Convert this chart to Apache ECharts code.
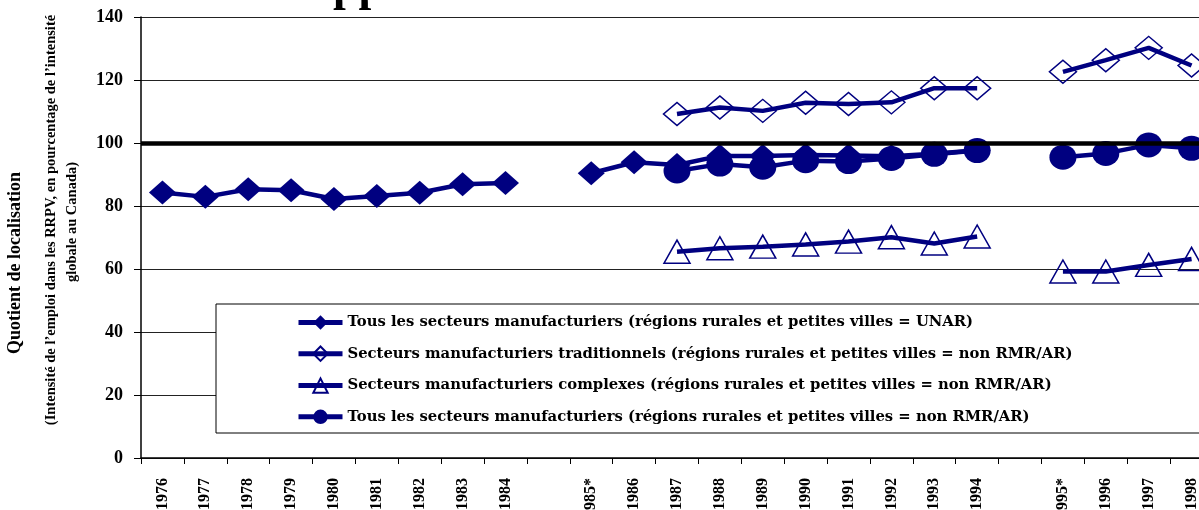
<!DOCTYPE html>
<html>
<head>
<meta charset="utf-8">
<script src="https://cdn.jsdelivr.net/npm/echarts@6/dist/echarts.min.js"></script>
<style>
html,body{margin:0;padding:0;overflow:hidden;background:#fff;}
#chart{width:1230px;height:510px;}
</style>
</head>
<body>
<div id="chart"></div>
<script>
const categories = ['1976','1977','1978','1979','1980','1981','1982','1983','1984',' ','1985*','1986','1987','1988','1989','1990','1991','1992','1993','1994','  ','1995*','1996','1997','1998'];
const yTicks = [0,20,40,60,80,100,120,140];
const seriesNames = [
  'Tous les secteurs manufacturiers (régions rurales et petites villes = UNAR)',
  'Secteurs manufacturiers traditionnels (régions rurales et petites villes = non RMR/AR)',
  'Secteurs manufacturiers complexes (régions rurales et petites villes = non RMR/AR)',
  'Tous les secteurs manufacturiers (régions rurales et petites villes = non RMR/AR)'
];
const unar = [84.3,82.9,85.3,85.0,82.2,83.2,84.2,86.9,87.3,null,90.4,93.9,93.0,95.9,95.9,96.2,96.0,95.8,96.6,97.7,null,null,null,null,null];
const traditionnels = [null,null,null,null,null,null,null,null,null,null,null,null,109.2,111.3,110.2,112.8,112.4,112.9,117.4,117.4,null,122.6,126.3,130.2,124.6];
const complexes = [null,null,null,null,null,null,null,null,null,null,null,null,65.5,66.6,67.1,67.8,68.7,70.1,68.1,70.3,null,59.2,59.2,61.3,63.2];
const nonRmr = [null,null,null,null,null,null,null,null,null,null,null,null,91.1,93.3,92.3,94.4,94.1,95.1,96.4,97.6,null,95.5,96.7,99.4,98.3];
const referenceValue = 100;
const yTitle = 'Quotient de localisation';
const ySub1 = '(Intensité de l’emploi dans les RRPV, en pourcentage de l’intensité';
const ySub2 = 'globale au Canada)';
const titleFragment = 'pp';

const NAVY = '#000080';
const SERIF = '"Liberation Serif","Times New Roman",serif';
const LEGEND_FONT = '"DejaVu Serif","Liberation Serif",serif';

function lineSeries(name, data, symbol, size, hollow) {
  return {
    name: name,
    type: 'line',
    data: data,
    connectNulls: false,
    symbol: symbol,
    symbolSize: size,
    showAllSymbol: true,
    lineStyle: {color: NAVY, width: 4.5},
    itemStyle: hollow ? {color: 'rgba(255,255,255,0)', borderColor: NAVY, borderWidth: 1.5}
                      : {color: NAVY, borderColor: NAVY, borderWidth: 0},
    emphasis: {disabled: true},
    animation: false
  };
}

const chart = echarts.init(document.getElementById('chart'), null, {renderer: 'canvas'});
chart.setOption({
  animation: false,
  backgroundColor: '#fff',
  grid: {left: 141, right: 17, top: 17, bottom: 52, containLabel: false, outerBoundsMode: 'none'},
  xAxis: {
    type: 'category',
    data: categories,
    boundaryGap: true,
    axisLine: {lineStyle: {color: '#000', width: 1.5}},
    axisTick: {show: true, length: 6, lineStyle: {color: '#000', width: 1}, interval: 0},
    axisLabel: {interval: 0, rotate: 90, margin: 20, color: '#000', fontFamily: SERIF, fontWeight: 'bold', fontSize: 16},
    splitLine: {show: false}
  },
  yAxis: {
    type: 'value',
    min: yTicks[0],
    max: yTicks[yTicks.length - 1],
    interval: 20,
    axisLine: {show: true, lineStyle: {color: '#000', width: 1.5}},
    axisTick: {show: true, length: 7, inside: false, lineStyle: {color: '#000'}},
    axisLabel: {margin: 18, color: '#000', fontFamily: SERIF, fontWeight: 'bold', fontSize: 18},
    splitLine: {show: true, lineStyle: {color: '#222', width: 1}}
  },
  legend: {
    data: seriesNames,
    orient: 'vertical',
    left: 216,
    top: 304,
    padding: [11, 10, 8, 80],
    itemGap: 15.5,
    itemWidth: 44,
    itemHeight: 18,
    backgroundColor: 'transparent',
    lineStyle: {width: 5},
    textStyle: {color: '#000', fontFamily: LEGEND_FONT, fontWeight: 'bold', fontSize: 14.8},
    selectedMode: false,
    z: 10
  },
  graphic: [
    {type: 'rect', shape: {x: 216, y: 304, width: 1000, height: 129}, style: {fill: '#fff', stroke: '#000', lineWidth: 1}, z: 5, silent: true},
    {type: 'text', x: 15, y: 263, rotation: Math.PI / 2, style: {text: yTitle, font: 'bold 18px ' + SERIF, fill: '#000', textAlign: 'center', textVerticalAlign: 'middle'}, silent: true},
    {type: 'text', x: 51, y: 220, rotation: Math.PI / 2, style: {text: ySub1, font: 'bold 14.5px ' + SERIF, fill: '#000', textAlign: 'center', textVerticalAlign: 'middle'}, silent: true},
    {type: 'text', x: 72, y: 222, rotation: Math.PI / 2, style: {text: ySub2, font: 'bold 14.5px ' + SERIF, fill: '#000', textAlign: 'center', textVerticalAlign: 'middle'}, silent: true},
    {type: 'text', x: 333, y: 11, style: {text: titleFragment, font: 'bold 46px ' + SERIF, fill: '#000', textAlign: 'left', textVerticalAlign: 'bottom'}, silent: true}
  ],
  series: [
    lineSeries(seriesNames[0], unar, 'diamond', [27, 24], false),
    lineSeries(seriesNames[1], traditionnels, 'diamond', [27, 23], true),
    lineSeries(seriesNames[2], complexes, 'triangle', [26, 23], true),
    lineSeries(seriesNames[3], nonRmr, 'circle', [27, 25], false),
    {
      name: 'ref',
      type: 'line',
      data: [],
      z: 4,
      markLine: {
        silent: true,
        symbol: ['none', 'none'],
        label: {show: false},
        lineStyle: {color: '#000', width: 4.5, type: 'solid'},
        emphasis: {disabled: true},
        animation: false,
        data: [{yAxis: referenceValue}]
      }
    }
  ]
});
</script>
</body>
</html>
